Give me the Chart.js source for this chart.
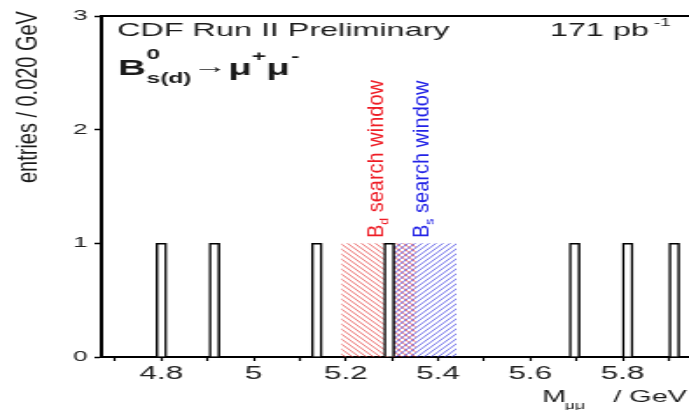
<!DOCTYPE html>
<html>
<head>
<meta charset="utf-8">
<script src="https://cdn.jsdelivr.net/npm/chart.js@4.4.1/dist/chart.umd.min.js"></script>
<style>
  html, body { margin: 0; padding: 0; background: #fff; overflow: hidden; }
  /* the original plot is stretched sideways, so draw narrow and widen it */
  #wrap { width: 394px; height: 410px; transform: scaleX(1.7487); transform-origin: 0 0; }
  #myChart { display: block; width: 394px; height: 410px; }
</style>
</head>
<body>
<div id="wrap"><canvas id="myChart" width="394" height="410"></canvas></div>
<script>
// candidate events, one per 0.020 GeV bin
var barMass = [4.8, 4.915, 5.137, 5.294, 5.696, 5.811, 5.912];
var barEntries = [1, 1, 1, 1, 1, 1, 1];

// search windows (GeV) and their drawn height
var bdWindow = [5.19, 5.352];
var bsWindow = [5.298, 5.44];
var windowHeight = [1, 1];

var xMajorTicks = [4.8, 5, 5.2, 5.4, 5.6, 5.8];
var xMinorTicks = [4.7, 4.9, 5.1, 5.3, 5.5, 5.7, 5.9];
var yTicks = [0, 1, 2, 3];

var stretch = 689 / 394;
var font = '"Liberation Sans", Arial, sans-serif';

function sx(px) {
  return px / stretch; // screen px -> canvas px
}

var ctx = document.getElementById("myChart").getContext("2d");

function hatch(color, down) {
  var w = 4, h = 5;
  var tile = document.createElement("canvas");
  tile.width = w;
  tile.height = h;
  var g = tile.getContext("2d");
  g.strokeStyle = color;
  g.lineWidth = 0.8;
  for (var dx = -w; dx <= w; dx += w) {
    g.beginPath();
    if (down) {
      g.moveTo(dx - w, -h);
      g.lineTo(dx + 2 * w, 2 * h);
    } else {
      g.moveTo(dx - w, 2 * h);
      g.lineTo(dx + 2 * w, -h);
    }
    g.stroke();
  }
  return ctx.createPattern(tile, "repeat");
}

function points(xs, ys) {
  return xs.map(function (v, i) {
    return { x: v, y: ys[i] };
  });
}

// draws a rotated text that should not be widened by the stretch
function upText(c, parts, x, y, squeeze) {
  c.save();
  c.translate(x, y);
  c.scale(1 / stretch, 1);
  c.rotate(-Math.PI / 2);
  c.scale(squeeze, 1);
  var pos = 0;
  parts.forEach(function (p) {
    c.font = p.size + "px " + font;
    c.fillStyle = p.color;
    c.fillText(p.text, pos, p.dy || 0);
    pos += c.measureText(p.text).width;
  });
  c.restore();
}

var labelPlugin = {
  id: "labels",
  afterDraw: function (chart) {
    var c = chart.ctx;
    var a = chart.chartArea;
    c.save();

    // top frame line
    c.strokeStyle = "#000";
    c.lineWidth = 1.8;
    c.beginPath();
    c.moveTo(a.left, a.top);
    c.lineTo(a.right, a.top);
    c.stroke();

    c.fillStyle = "#1a1a1a";
    c.textBaseline = "alphabetic";
    c.textAlign = "left";

    c.font = "18.5px " + font;
    c.fillText("CDF Run II Preliminary", sx(117), 36);
    c.fillText("171 pb", sx(550), 36);
    var w = c.measureText("171 pb").width;
    c.font = "11px " + font;
    c.fillText("-1", sx(550) + w + sx(5), 26);

    // B0 s(d) -> mu+ mu-
    var x = sx(118);
    c.font = "bold 22px " + font;
    c.fillText("B", x, 75);
    x += c.measureText("B").width + 0.5;
    c.font = "bold 14px " + font;
    c.fillText("0", x, 59);
    c.fillText("s(d)", x, 83);
    x += c.measureText("s(d)").width + 0.5;
    c.font = "20px " + font;
    c.fillText("\u2192", x, 73);
    x += c.measureText("\u2192").width + 0.5;
    c.font = "bold 22px " + font;
    c.fillText("\u03bc", x, 75);
    x += c.measureText("\u03bc").width;
    c.font = "bold 14px " + font;
    c.fillText("+", x, 61);
    x += c.measureText("+").width;
    c.font = "bold 22px " + font;
    c.fillText("\u03bc", x, 75);
    x += c.measureText("\u03bc").width;
    c.font = "bold 14px " + font;
    c.fillText("-", x + 1, 61);

    // x title
    c.font = "16.5px " + font;
    c.fillText("M", sx(542), 402);
    c.font = "10px " + font;
    c.fillText("\u03bc\u03bc", sx(565), 409);
    c.font = "16.5px " + font;
    c.textAlign = "right";
    c.fillText("/ GeV", sx(687), 402);
    c.textAlign = "left";

    // y title
    upText(c, [{ text: "entries / 0.020 GeV", size: 30, color: "#1a1a1a" }], sx(37), 183, 0.665);

    // window labels
    upText(c, [
      { text: "B", size: 23, color: "#ee1c25" },
      { text: "d", size: 14, dy: 5, color: "#ee1c25" },
      { text: " search window", size: 23, color: "#ee1c25" }
    ], sx(383), 238, 0.87);
    upText(c, [
      { text: "B", size: 23, color: "#2323e6" },
      { text: "s", size: 14, dy: 5, color: "#2323e6" },
      { text: " search window", size: 23, color: "#2323e6" }
    ], sx(429), 238, 0.87);

    c.restore();
  }
};

new Chart(ctx, {
  type: "bar",
  data: {
    datasets: [
      {
        type: "bar",
        data: points(barMass, barEntries),
        backgroundColor: "#fff",
        borderColor: "#000",
        borderWidth: 1.5,
        borderSkipped: "bottom",
        barThickness: 6,
        order: 0
      },
      {
        type: "line",
        data: points(bdWindow, windowHeight),
        fill: "origin",
        backgroundColor: hatch("rgba(228,60,60,0.9)", true),
        borderColor: "transparent",
        borderWidth: 0,
        pointRadius: 0,
        order: 2
      },
      {
        type: "line",
        data: points(bsWindow, windowHeight),
        fill: "origin",
        backgroundColor: hatch("rgba(60,60,225,0.9)", false),
        borderColor: "transparent",
        borderWidth: 0,
        pointRadius: 0,
        order: 1
      }
    ]
  },
  options: {
    responsive: false,
    animation: false,
    events: [],
    layout: { padding: { top: 16, right: 0, bottom: 0, left: 0 } },
    plugins: {
      legend: { display: false },
      tooltip: { enabled: false }
    },
    scales: {
      x: {
        type: "linear",
        min: 4.67,
        max: 5.944,
        offset: false,
        grid: {
          offset: false,
          drawOnChartArea: false,
          drawTicks: true,
          tickLength: 4,
          tickWidth: 1.2,
          tickColor: "#000"
        },
        border: { display: true, color: "#000", width: 2 },
        ticks: {
          autoSkip: false,
          maxRotation: 0,
          padding: 2,
          color: "#222",
          font: { family: font, size: 18 },
          callback: function (value) {
            return xMajorTicks.indexOf(value) >= 0 ? String(value) : "";
          }
        },
        afterBuildTicks: function (scale) {
          scale.ticks = xMajorTicks.concat(xMinorTicks).sort().map(function (v) {
            return { value: v };
          });
        },
        afterFit: function (scale) {
          scale.height = 53;
        }
      },
      y: {
        min: 0,
        max: 3,
        grid: {
          drawOnChartArea: false,
          drawTicks: true,
          tickLength: 4,
          tickWidth: 1.5,
          tickColor: "#000"
        },
        border: { display: true, color: "#000", width: 2 },
        ticks: {
          padding: 4,
          color: "#222",
          font: { family: font, size: 15 }
        },
        afterBuildTicks: function (scale) {
          scale.ticks = yTicks.map(function (v) {
            return { value: v };
          });
        },
        afterFit: function (scale) {
          scale.width = 58;
        }
      }
    }
  },
  plugins: [labelPlugin]
});
</script>
</body>
</html>
